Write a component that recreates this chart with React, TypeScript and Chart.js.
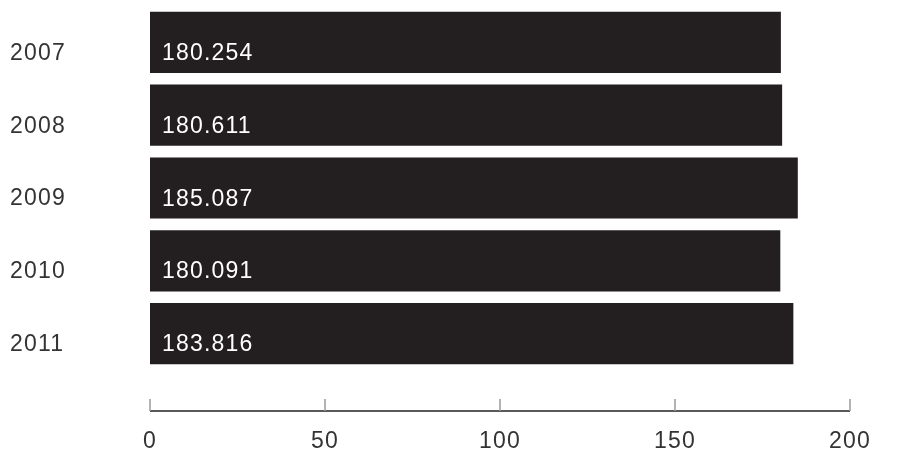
import React, { useEffect, useRef } from "react";
import { Chart, registerables } from "chart.js";

Chart.register(...registerables);

const categories: string[] = ["2007", "2008", "2009", "2010", "2011"];
const values: number[] = [180.254, 180.611, 185.087, 180.091, 183.816];
const valueLabels: string[] = ["180.254", "180.611", "185.087", "180.091", "183.816"];
const xTicks: number[] = [0, 50, 100, 150, 200];

const FONT = "'Liberation Sans', Arial, Helvetica, sans-serif";
const SPACING = "1.2px";

const spacingPlugin = {
  id: "letterSpacing",
  beforeDraw(chart: any) {
    chart.ctx.letterSpacing = SPACING;
  },
};

const axisPlugin = {
  id: "customAxis",
  afterDraw(chart: any) {
    const ctx = chart.ctx;
    const x = chart.scales.x;
    const area = chart.chartArea;
    const lineY = area.bottom + 41;
    ctx.save();
    ctx.strokeStyle = "#222222";
    ctx.lineWidth = 1.5;
    ctx.beginPath();
    ctx.moveTo(x.getPixelForValue(xTicks[0]), lineY);
    ctx.lineTo(x.getPixelForValue(xTicks[xTicks.length - 1]), lineY);
    ctx.stroke();
    ctx.strokeStyle = "#999999";
    ctx.lineWidth = 1.5;
    xTicks.forEach((t) => {
      const px = x.getPixelForValue(t);
      ctx.beginPath();
      ctx.moveTo(px, lineY - 12);
      ctx.lineTo(px, lineY);
      ctx.stroke();
    });
    ctx.restore();
  },
};

const valueLabelPlugin = {
  id: "valueLabels",
  afterDatasetsDraw(chart: any) {
    const ctx = chart.ctx;
    const meta = chart.getDatasetMeta(0);
    ctx.save();
    ctx.letterSpacing = SPACING;
    ctx.fillStyle = "#ffffff";
    ctx.font = `23px ${FONT}`;
    ctx.textAlign = "left";
    ctx.textBaseline = "alphabetic";
    meta.data.forEach((bar: any, i: number) => {
      const props = bar.getProps(["x", "y", "base", "height"], true);
      ctx.fillText(valueLabels[i], props.base + 12, props.y + 17.5);
    });
    ctx.restore();
  },
};

export default function App() {
  const ref = useRef<HTMLCanvasElement | null>(null);
  useEffect(() => {
    document.body.style.margin = "0";
    if (!ref.current) return;
    const chart = new Chart(ref.current, {
      type: "bar",
      data: {
        labels: categories,
        datasets: [
          {
            data: values,
            backgroundColor: "#231f20",
            borderWidth: 0,
            barPercentage: 0.84,
            categoryPercentage: 1,
          },
        ],
      },
      options: {
        indexAxis: "y",
        animation: false,
        responsive: false,
        maintainAspectRatio: false,
        layout: { padding: { left: 10, right: 47, top: 6, bottom: 0 } },
        plugins: { legend: { display: false }, tooltip: { enabled: false } },
        scales: {
          x: {
            min: 0,
            max: 200,
            afterBuildTicks: (s: any) => {
              s.ticks = xTicks.map((v) => ({ value: v }));
            },
            afterFit: (s: any) => {
              s.height = 80;
              s.paddingLeft = 0;
              s.paddingRight = 0;
            },
            grid: { display: false, drawTicks: false },
            border: { display: false },
            ticks: {
              color: "#333333",
              font: { family: FONT, size: 23 },
              padding: 58,
              maxRotation: 0,
            },
          },
          y: {
            afterFit: (s: any) => {
              s.width = 140;
              s.paddingTop = 0;
              s.paddingBottom = 0;
            },
            grid: { display: false, drawTicks: false },
            border: { display: false },
            ticks: {
              color: "#333333",
              font: { family: FONT, size: 23 },
              crossAlign: "far",
              labelOffset: 11,
            },
          },
        },
      },
      plugins: [spacingPlugin, axisPlugin, valueLabelPlugin],
    });
    return () => chart.destroy();
  }, []);
  return <canvas ref={ref} width={897} height={450} style={{ display: "block" }} />;
}
